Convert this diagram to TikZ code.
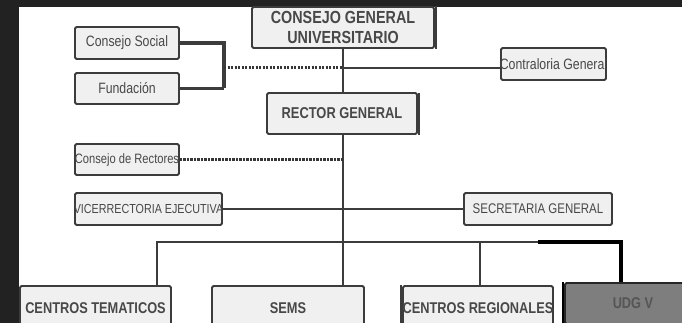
\documentclass[tikz,border=0pt]{standalone}
\usepackage{fontspec}
\setmainfont{Liberation Sans}[FakeStretch=0.82]
\usetikzlibrary{calc}
\definecolor{bg}{HTML}{222222}
\definecolor{ln}{HTML}{3C3C3C}
\definecolor{bx}{HTML}{F0F0F0}
\definecolor{tx}{HTML}{484848}
\definecolor{udg}{HTML}{7E7E7E}
\definecolor{udgtx}{HTML}{555555}
\begin{document}
\begin{tikzpicture}[x=1pt,y=-1pt,
  orgbox/.style={draw=ln, line width=1.8pt, fill=bx, rounded corners=1.5pt, inner sep=0pt, text=tx},
  smalltxt/.style={font=\fontsize{15}{17}\selectfont},
  bigtxt/.style={font=\fontsize{15.6}{18}\selectfont\bfseries},
  conn/.style={draw=ln, line width=2.5pt},
  heavy/.style={draw=ln, line width=4pt},
  blackconn/.style={draw=black, line width=3.2pt},
  dashconn/.style={draw=ln!90!black, line width=3pt, dash pattern=on 2.2pt off 1.3pt},
  shadowline/.style={draw=ln, line width=2pt}]
\useasboundingbox (0,0) rectangle (682,323);
\clip (0,0) rectangle (682,323);
\fill[bg] (0,0) rectangle (682,323);
\fill[white] (19,7) rectangle (682,323);

% boxes
\node[orgbox, minimum width=182pt, minimum height=41pt, align=center,
      font=\fontsize{17.5}{19.5}\selectfont\bfseries] (cgu) at (343,27.5) {CONSEJO GENERAL\\UNIVERSITARIO};
\node[orgbox, smalltxt, minimum width=104pt, minimum height=32pt] (cs) at (127,43) {\makebox[0pt]{Consejo Social}};
\node[orgbox, smalltxt, minimum width=104pt, minimum height=31pt] (fund) at (127,88.5) {\makebox[0pt]{Fundación}};
\node[orgbox, smalltxt, minimum width=105pt, minimum height=32pt] (contra) at (553.5,64) {\makebox[0pt]{Contraloria General}};
\node[orgbox, font=\fontsize{15.7}{18}\selectfont\bfseries, minimum width=150pt, minimum height=41pt] (rector) at (342,113.5) {\makebox[0pt]{RECTOR GENERAL}};
\node[orgbox, font=\fontsize{13.6}{16}\selectfont, minimum width=104pt, minimum height=31pt] (cdr) at (127,159.5) {\makebox[0pt]{Consejo de Rectores}};
\node[orgbox, font=\fontsize{13.1}{16}\selectfont, minimum width=147pt, minimum height=32pt] (vice) at (148.5,209) {\makebox[0pt]{VICERRECTORIA EJECUTIVA}};
\node[orgbox, font=\fontsize{14}{16}\selectfont, minimum width=148pt, minimum height=32pt] (secr) at (538,209) {\makebox[0pt]{SECRETARIA GENERAL}};
\node[orgbox, bigtxt, minimum width=151pt, minimum height=44pt] (ct) at (95.5,308) {\makebox[0pt]{CENTROS TEMATICOS}};
\node[orgbox, bigtxt, minimum width=152pt, minimum height=44pt] (sems) at (288,308) {\makebox[0pt]{SEMS}};
\node[orgbox, bigtxt, minimum width=150pt, minimum height=44pt] (creg) at (478,308) {\makebox[0pt]{CENTROS REGIONALES}};
\node[orgbox, bigtxt, fill=udg, text=udgtx, draw=black!85, minimum width=136pt, minimum height=41pt] (udg) at (633,303.5) {\makebox[0pt]{UDG V}};

% darker edges
\draw[shadowline] ([xshift=1.5pt,yshift=-1pt]rector.north east) -- ([xshift=1.5pt]rector.south east);
\draw[shadowline] ([xshift=1pt]cgu.north east) -- ([xshift=1pt]cgu.south east);
\draw[shadowline] ([xshift=-1pt]creg.north west) -- ([xshift=-1pt]creg.south west);
\draw[shadowline, draw=black] ([xshift=-1pt]udg.north west) -- ([xshift=-1pt]udg.south west);

% junction coordinates
\coordinate (b) at (224,68);
\coordinate (j1) at (343,68);
\coordinate (d1) at (157,242);
\coordinate (d2) at (480,242);
\coordinate (d3) at (538,242);
\coordinate (d4) at (621,242);

% connectors
\draw[conn] (cgu.south -| j1) -- (rector.north -| j1);
\draw[conn] (rector.south -| j1) -- (j1 |- sems.north);
\draw[heavy] (cs.east) -| (b |- fund.east);
\draw[conn] (b |- fund.east) -- (fund.east);
\draw[dashconn] (b) -- (j1);
\draw[conn] (j1) -- (j1 -| contra.west);
\draw[dashconn] (cdr.east) -- (cdr.east -| j1);
\draw[conn] (vice.east) -- (secr.west);
\draw[conn] (d1 |- ct.north) -- (d1) -- (d3);
\draw[conn] (d2) -- (d2 |- creg.north);
\draw[blackconn] (d3) -- (d4) -- (d4 |- udg.north);
\end{tikzpicture}
\end{document}
